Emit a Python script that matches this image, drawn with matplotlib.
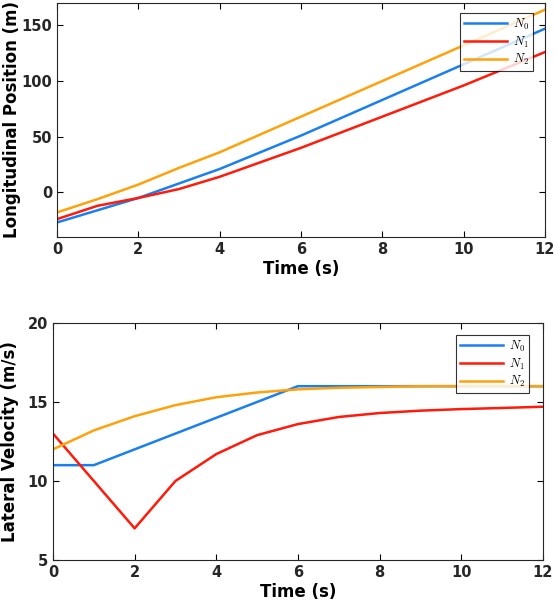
import matplotlib
matplotlib.use("Agg")
import matplotlib.pyplot as plt

t = [0, 1, 2, 3, 4, 5, 6, 7, 8, 9, 10, 11, 12]

# Longitudinal position (m)
pos_n0 = [-27, -16, -5, 8, 21, 36, 51, 67, 83, 99, 115, 131, 147]
pos_n1 = [-24, -12, -5, 3, 14, 27, 40, 54, 68, 82, 96, 111, 126]
pos_n2 = [-18, -6, 7, 22, 36, 52, 68, 84, 100, 116, 132, 148, 164]

# Lateral velocity (m/s)
vel_t0 = [0, 1, 6, 12]
vel_n0 = [11, 11, 16, 16]
vel_n1 = [13, 10, 7, 10, 11.7, 12.9, 13.6, 14.05, 14.3, 14.45, 14.55, 14.62, 14.7]
vel_n2 = [12, 13.2, 14.1, 14.8, 15.3, 15.6, 15.8, 15.9, 15.95, 16, 16, 16, 16]

labels = [r"$N_0$", r"$N_1$", r"$N_2$"]
colors = ["#1a7ff0", "#ff1a0a", "#ffa10a"]

plt.rcParams["mathtext.fontset"] = "cm"
plt.rcParams["font.family"] = "DejaVu Sans"
plt.rcParams["font.weight"] = "bold"

fig = plt.figure(figsize=(5.56, 6.06), dpi=100)
ax1 = fig.add_axes([0.1025, 0.609, 0.8777, 0.386])
ax2 = fig.add_axes([0.0953, 0.076, 0.881, 0.391])

lw = 1.8
ax1.plot(t, pos_n0, color=colors[0], lw=lw, label=labels[0])
ax1.plot(t, pos_n1, color=colors[1], lw=lw, label=labels[1])
ax1.plot(t, pos_n2, color=colors[2], lw=lw, label=labels[2])
ax1.set_xlim(0, 12)
ax1.set_ylim(-40, 170)
ax1.set_yticks([0, 50, 100, 150])
ax1.set_xticks([0, 2, 4, 6, 8, 10, 12])
ax1.set_xlabel("Time (s)", fontsize=12, fontweight="bold", labelpad=2)
ax1.set_ylabel("Longitudinal Position (m)", fontsize=12, fontweight="bold", labelpad=0)

ax2.plot(vel_t0, vel_n0, color=colors[0], lw=lw, label=labels[0])
ax2.plot(t, vel_n1, color=colors[1], lw=lw, label=labels[1])
ax2.plot(t, vel_n2, color=colors[2], lw=lw, label=labels[2])
ax2.set_xlim(0, 12)
ax2.set_ylim(5, 20)
ax2.set_yticks([5, 10, 15, 20])
ax2.set_xticks([0, 2, 4, 6, 8, 10, 12])
ax2.set_xlabel("Time (s)", fontsize=12, fontweight="bold", labelpad=2)
ax2.set_ylabel("Lateral Velocity (m/s)", fontsize=12, fontweight="bold", labelpad=6)

anchors = [(0.975, 0.957), (0.971, 0.949)]
for ax, anc in zip((ax1, ax2), anchors):
    ax.tick_params(direction="in", top=True, right=True, labelsize=10.5, length=4, width=0.8)
    for lab in ax.get_xticklabels() + ax.get_yticklabels():
        lab.set_fontweight("bold")
        lab.set_color("#262626")
    for sp in ax.spines.values():
        sp.set_linewidth(0.8)
        sp.set_color("#262626")
    leg = ax.legend(loc="upper right", bbox_to_anchor=anc, fontsize=9,
                    frameon=True, fancybox=False, edgecolor="black",
                    handlelength=3.4, handletextpad=0.5, borderpad=0.3,
                    labelspacing=0.2, borderaxespad=0.0)
    leg.get_frame().set_linewidth(0.8)

fig.savefig("out.png", dpi=100)
